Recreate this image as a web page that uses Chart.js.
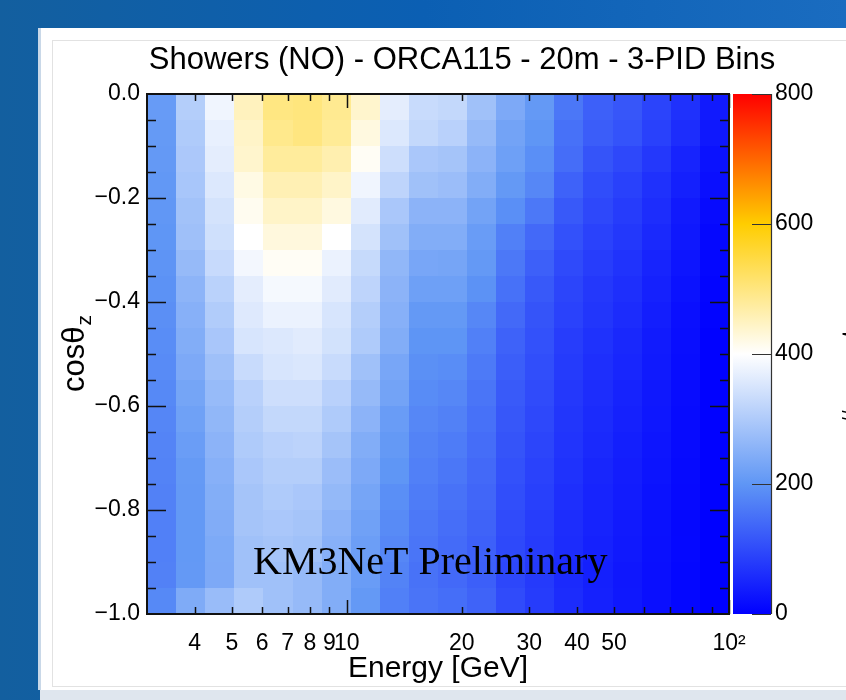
<!DOCTYPE html>
<html>
<head>
<meta charset="utf-8">
<script src="https://cdn.jsdelivr.net/npm/chart.js@4.4.1/dist/chart.umd.min.js"></script>
<style>
  html, body { margin: 0; padding: 0; background: #0d62ad; }
  canvas { display: block; }
</style>
</head>
<body>
<canvas id="hist" width="846" height="700"></canvas>
<script>
/* Shower event map: reconstructed energy (log bins) vs cos(zenith). */

const titleText = "Showers (NO) - ORCA115 - 20m - 3-PID Bins";

// 20 log-spaced energy bins, 3 - 100 GeV
const energyEdges = [3, 3.58, 4.26, 5.08, 6.05, 7.21, 8.59, 10.23, 12.19, 14.53, 17.32,
                     20.64, 24.59, 29.31, 34.92, 41.61, 49.58, 59.08, 70.40, 83.90, 100];

// 20 cos(theta_z) bins, listed from the horizon (0) down to -1
const cosEdges = [0, -0.05, -0.1, -0.15, -0.2, -0.25, -0.3, -0.35, -0.4, -0.45, -0.5,
                  -0.55, -0.6, -0.65, -0.7, -0.75, -0.8, -0.85, -0.9, -0.95, -1.0];

// counts[energyBin][cosBin], cos bins ordered as in cosEdges (top row first)
const counts = [
  [210, 208, 206, 204, 202, 200, 197, 194, 191, 188, 185, 182, 179, 176, 174, 172, 170, 170, 172, 182],
  [306, 300, 296, 291, 284, 280, 269, 258, 250, 244, 237, 228, 220, 214, 208, 206, 205, 205, 206, 240],
  [381, 371, 366, 356, 346, 340, 330, 314, 302, 292, 280, 270, 262, 256, 250, 245, 242, 238, 237, 272],
  [451, 443, 439, 421, 412, 400, 385, 366, 359, 350, 331, 312, 306, 300, 294, 287, 287, 281, 281, 300],
  [498, 490, 478, 459, 443, 427, 408, 388, 375, 356, 350, 337, 325, 312, 306, 300, 294, 287, 281, 281],
  [502, 500, 478, 459, 443, 427, 408, 388, 375, 362, 354, 337, 325, 316, 306, 294, 287, 281, 269, 269],
  [486, 482, 463, 443, 424, 400, 375, 362, 350, 344, 331, 312, 300, 287, 275, 266, 256, 250, 244, 244],
  [439, 424, 408, 381, 362, 346, 329, 319, 306, 300, 281, 269, 256, 244, 237, 229, 221, 216, 212, 206],
  [366, 356, 337, 319, 294, 281, 262, 256, 250, 244, 231, 225, 212, 206, 200, 190, 185, 180, 175, 170],
  [331, 325, 294, 281, 256, 244, 231, 219, 206, 198, 192, 186, 180, 175, 170, 165, 160, 156, 152, 155],
  [325, 312, 287, 275, 256, 244, 229, 219, 206, 198, 188, 180, 172, 165, 158, 152, 147, 143, 140, 146],
  [281, 269, 256, 244, 225, 212, 206, 194, 180, 170, 162, 156, 150, 145, 140, 136, 132, 128, 126, 132],
  [237, 225, 219, 206, 190, 170, 160, 150, 140, 130, 125, 120, 116, 112, 108, 104, 100, 97, 95, 100],
  [206, 200, 190, 180, 160, 140, 128, 118, 112, 108, 104, 100, 96, 92, 88, 85, 82, 79, 77, 80],
  [158, 150, 145, 130, 118, 108, 98, 92, 88, 82, 78, 75, 72, 69, 66, 63, 60, 58, 56, 58],
  [128, 124, 112, 102, 96, 88, 82, 75, 72, 66, 63, 60, 57, 54, 51, 48, 46, 44, 42, 44],
  [115, 110, 96, 86, 80, 74, 68, 63, 58, 53, 50, 47, 44, 41, 39, 37, 35, 33, 31, 32],
  [90, 86, 75, 65, 60, 54, 48, 44, 40, 36, 34, 32, 30, 28, 26, 24, 22, 21, 20, 20],
  [65, 60, 48, 42, 35, 32, 28, 24, 20, 18, 17, 16, 15, 14, 13, 12, 11, 10, 9, 9],
  [35, 32, 24, 20, 14, 11, 9, 7, 5, 3, 3, 3, 2, 2, 2, 2, 1, 1, 1, 1],
];

// axis ticks
const energyLabels = [4, 5, 6, 7, 8, 9, 10, 20, 30, 40, 50, 100];
const energyMinor  = [4, 5, 6, 7, 8, 9, 20, 30, 40, 50, 60, 70, 80, 90];
const energyMajor  = [10, 100];
const cosMinor = [-0.95, -0.9, -0.85, -0.75, -0.7, -0.65, -0.55, -0.5, -0.45,
                  -0.35, -0.3, -0.25, -0.15, -0.1, -0.05];
const cosMajor = [-0.8, -0.6, -0.4, -0.2];
const zTicks = [0, 200, 400, 600, 800];

// colour palette (value stops -> rgb)
const paletteStops  = [0, 200, 400, 600, 800];
const paletteColors = [[0, 0, 255], [95, 150, 245], [255, 255, 255], [255, 205, 0], [255, 0, 0]];

const FONT = "'Liberation Sans', Arial, Helvetica, sans-serif";

function colorFor(v) {
  const last = paletteStops.length - 1;
  if (v <= paletteStops[0]) return rgb(paletteColors[0]);
  if (v >= paletteStops[last]) return rgb(paletteColors[last]);
  let k = 0;
  while (v > paletteStops[k + 1]) k++;
  const t = (v - paletteStops[k]) / (paletteStops[k + 1] - paletteStops[k]);
  const a = paletteColors[k], b = paletteColors[k + 1];
  return rgb(a.map((c, i) => c + (b[i] - c) * t));
}

function rgb(c) {
  return `rgb(${Math.round(c[0])},${Math.round(c[1])},${Math.round(c[2])})`;
}

// one point per cell at the bin centre (used for the dataset / tooltips)
const cells = [];
counts.forEach((col, i) => col.forEach((v, j) => {
  cells.push({
    x: Math.sqrt(energyEdges[i] * energyEdges[i + 1]),
    y: (cosEdges[j] + cosEdges[j + 1]) / 2,
    v: v,
  });
}));

// ------------------------------------------------------------------
// Plugins
// ------------------------------------------------------------------

const backdrop = {
  id: "backdrop",
  beforeDraw(chart) {
    const ctx = chart.ctx;
    const W = chart.width, H = chart.height;
    ctx.save();
    const g = ctx.createLinearGradient(0, 0, W, 0);
    g.addColorStop(0, "#135f9f");
    g.addColorStop(0.5, "#0b5fb3");
    g.addColorStop(1, "#1a6cc0");
    ctx.fillStyle = g;
    ctx.fillRect(0, 0, W, H);
    ctx.fillStyle = "#dfe6ee";
    ctx.fillRect(40, 690, W - 40, H - 690);
    ctx.fillStyle = "#c9d8e8";
    ctx.fillRect(38, 28, 3, 662);
    ctx.fillStyle = "#ffffff";
    ctx.fillRect(41, 28, W - 41, 662);
    ctx.strokeStyle = "#e2e2e2";
    ctx.lineWidth = 1;
    ctx.strokeRect(52.5, 40.5, W, 646);
    ctx.restore();
  },
};

const heatmap = {
  id: "heatmap",
  beforeDatasetsDraw(chart) {
    const ctx = chart.ctx;
    const xs = chart.scales.x, ys = chart.scales.y;
    ctx.save();
    counts.forEach((col, i) => {
      const x0 = Math.round(xs.getPixelForValue(energyEdges[i]));
      const x1 = Math.round(xs.getPixelForValue(energyEdges[i + 1]));
      col.forEach((v, j) => {
        const y0 = Math.round(ys.getPixelForValue(cosEdges[j]));
        const y1 = Math.round(ys.getPixelForValue(cosEdges[j + 1]));
        ctx.fillStyle = colorFor(v);
        ctx.fillRect(x0, y0, x1 - x0, y1 - y0);
      });
    });
    ctx.restore();
  },
};

const frame = {
  id: "frame",
  afterDatasetsDraw(chart) {
    const ctx = chart.ctx;
    const a = chart.chartArea;
    const xs = chart.scales.x, ys = chart.scales.y, zs = chart.scales.z;
    ctx.save();
    ctx.strokeStyle = "#111";
    ctx.lineWidth = 1.5;

    ctx.beginPath();
    const tick = (x0, y0, x1, y1) => { ctx.moveTo(x0, y0); ctx.lineTo(x1, y1); };
    energyMinor.forEach(v => {
      const px = Math.round(xs.getPixelForValue(v)) + 0.5;
      tick(px, a.bottom, px, a.bottom - 7);
      tick(px, a.top, px, a.top + 7);
    });
    energyMajor.forEach(v => {
      const px = Math.round(xs.getPixelForValue(v)) + 0.5;
      tick(px, a.bottom, px, a.bottom - 14);
      tick(px, a.top, px, a.top + 14);
    });
    cosMinor.forEach(v => {
      const py = Math.round(ys.getPixelForValue(v)) + 0.5;
      tick(a.left, py, a.left + 9, py);
      tick(a.right, py, a.right - 9, py);
    });
    cosMajor.forEach(v => {
      const py = Math.round(ys.getPixelForValue(v)) + 0.5;
      tick(a.left, py, a.left + 19, py);
      tick(a.right, py, a.right - 19, py);
    });
    ctx.stroke();

    ctx.lineWidth = 2;
    ctx.strokeRect(a.left, a.top, a.right - a.left, a.bottom - a.top);

    // colour bar
    const barL = a.right + 4, barR = a.right + 42;
    const top = zs.getPixelForValue(800), bot = zs.getPixelForValue(0);
    const grad = ctx.createLinearGradient(0, bot, 0, top);
    paletteStops.forEach((s, k) => grad.addColorStop(s / 800, rgb(paletteColors[k])));
    ctx.fillStyle = grad;
    ctx.fillRect(barL, top, barR - barL, bot - top);
    ctx.strokeStyle = "#333";
    ctx.lineWidth = 1.2;
    ctx.beginPath();
    ctx.moveTo(barR + 0.5, top);
    ctx.lineTo(barR + 0.5, bot);
    zTicks.forEach(v => {
      const py = Math.round(zs.getPixelForValue(v)) + 0.5;
      ctx.moveTo(barR, py);
      ctx.lineTo(barR - 19, py);
    });
    ctx.stroke();
    ctx.restore();
  },
  afterDraw(chart) {
    const ctx = chart.ctx;
    const a = chart.chartArea;
    ctx.save();
    ctx.fillStyle = "#000";

    // title
    ctx.font = `31px ${FONT}`;
    ctx.textAlign = "center";
    ctx.textBaseline = "alphabetic";
    ctx.fillText(titleText, 462, 69);

    // y axis title with subscript
    ctx.translate(84, 392);
    ctx.rotate(-Math.PI / 2);
    ctx.textAlign = "left";
    ctx.font = `31px ${FONT}`;
    ctx.fillText("cosθ", 0, 0);
    const w = ctx.measureText("cosθ").width;
    ctx.font = `21px ${FONT}`;
    ctx.fillText("z", w + 1, 7);
    ctx.setTransform(1, 0, 0, 1, 0, 0);

    // z axis title, mostly beyond the page edge
    ctx.translate(862, 370);
    ctx.rotate(-Math.PI / 2);
    ctx.textAlign = "center";
    ctx.font = `29px ${FONT}`;
    ctx.fillText("# events", 0, 0);
    ctx.setTransform(1, 0, 0, 1, 0, 0);

    // preliminary label
    ctx.font = "40px 'Liberation Serif', 'Times New Roman', serif";
    ctx.textAlign = "left";
    ctx.fillText("KM3NeT Preliminary", a.left + 106, a.bottom - 40);
    ctx.restore();
  },
};

// ------------------------------------------------------------------
// Chart
// ------------------------------------------------------------------

const tickFont = { family: FONT, size: 23 };

new Chart(document.getElementById("hist"), {
  type: "scatter",
  data: {
    datasets: [{
      label: "counts",
      data: cells,
      pointRadius: 0,
      pointHoverRadius: 0,
    }],
  },
  options: {
    responsive: false,
    animation: false,
    events: [],
    layout: { padding: { top: 94, left: 0, right: 0, bottom: 0 } },
    plugins: {
      legend: { display: false },
      title: { display: false },
      tooltip: { enabled: false },
    },
    scales: {
      x: {
        type: "logarithmic",
        min: 3,
        max: 100,
        afterBuildTicks: s => { s.ticks = energyLabels.map(v => ({ value: v })); },
        afterFit: s => { s.height = 86; },
        grid: { display: false, drawTicks: false },
        border: { display: false },
        ticks: {
          autoSkip: false,
          maxRotation: 0,
          padding: 16,
          color: "#000",
          font: tickFont,
          callback: v => (v === 100 ? "10²" : String(v)),
        },
        title: {
          display: true,
          text: "Energy [GeV]",
          color: "#000",
          font: { family: FONT, size: 30 },
          padding: { top: 0, bottom: 13 },
        },
      },
      y: {
        type: "linear",
        min: -1,
        max: 0,
        afterFit: s => { s.width = 147; },
        grid: { display: false, drawTicks: false },
        border: { display: false },
        ticks: {
          stepSize: 0.2,
          padding: 7,
          color: "#000",
          font: tickFont,
          callback: v => (v < -0.001 ? "\u2212" + Math.abs(v).toFixed(1) : "0.0"),
        },
      },
      z: {
        type: "linear",
        position: "right",
        min: 0,
        max: 800,
        afterFit: s => { s.width = 117; },
        grid: { display: false, drawTicks: false },
        border: { display: false },
        ticks: {
          stepSize: 200,
          padding: 46,
          color: "#000",
          font: tickFont,
        },
      },
    },
  },
  plugins: [backdrop, heatmap, frame],
});
</script>
</body>
</html>
